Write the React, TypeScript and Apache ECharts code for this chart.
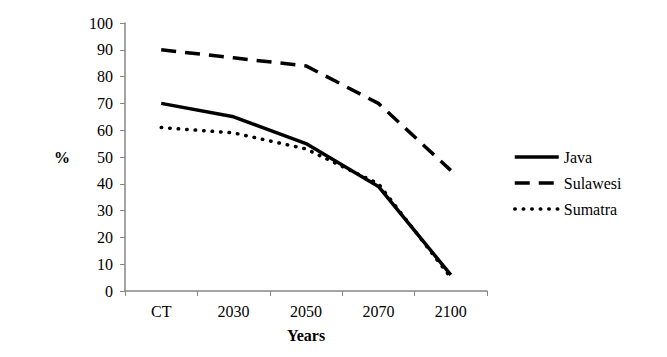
import React, { useEffect, useRef } from "react";
import * as echarts from "echarts";

const categories = ["CT", "2030", "2050", "2070", "2100"];
const java = [70, 65, 55, 39, 6];
const sulawesi = [90, 87, 84, 70, 45];
const sumatra = [61, 59, 53, 40, 5];

const FONT = "\"Liberation Serif\", \"Times New Roman\", serif";

export default function App() {
  const ref = useRef<HTMLDivElement>(null);
  useEffect(() => {
    const chart = echarts.init(ref.current!, undefined, { renderer: "svg" });
    const mk = (name: string, data: number[], type: any, cap: any = "butt", width = 3.5) => ({
      name,
      type: "line",
      data,
      symbol: "none",
      lineStyle: { color: "#000", width, type, cap },
      itemStyle: { color: "#000" },
    });
    chart.setOption({
      animation: false,
      backgroundColor: "#fff",
      textStyle: { fontFamily: FONT },
      grid: { left: 125, top: 23, width: 362, height: 268, containLabel: false },
      legend: {
        orient: "vertical",
        left: 508,
        top: 144,
        itemWidth: 44,
        itemHeight: 14,
        itemGap: 10,
        itemStyle: { opacity: 0 },
        lineStyle: { width: 3.5 },
        textStyle: { fontFamily: FONT, fontSize: 16, color: "#000" },
        data: ["Java", "Sulawesi", "Sumatra"],
      },
      xAxis: {
        type: "category",
        data: categories,
        name: "Years",
        nameLocation: "middle",
        nameGap: 36,
        nameTextStyle: { fontFamily: FONT, fontSize: 16, fontWeight: "bold", color: "#000" },
        axisLine: { lineStyle: { color: "#868686", width: 1.5 } },
        axisTick: { show: true, length: 5, lineStyle: { color: "#868686" } },
        axisLabel: { fontFamily: FONT, fontSize: 16, color: "#000", margin: 12 },
        splitLine: { show: false },
      },
      yAxis: {
        type: "value",
        min: 0,
        max: 100,
        interval: 10,
        name: "%",
        nameLocation: "middle",
        nameGap: 55,
        nameRotate: 0,
        nameTextStyle: { fontFamily: FONT, fontSize: 16, fontWeight: "bold", color: "#000" },
        axisLine: { show: true, lineStyle: { color: "#868686", width: 1.5 } },
        axisTick: { show: true, length: 5, lineStyle: { color: "#868686" } },
        axisLabel: { fontFamily: FONT, fontSize: 16, color: "#000", margin: 12 },
        splitLine: { show: false },
      },
      series: [
        mk("Java", java, "solid"),
        mk("Sulawesi", sulawesi, [15, 9]),
        mk("Sumatra", sumatra, [0.5, 8], "round", 3.5),
      ],
    });
    return () => chart.dispose();
  }, []);
  return <div ref={ref} style={{ width: 667, height: 357, margin: -8 }} />;
}
